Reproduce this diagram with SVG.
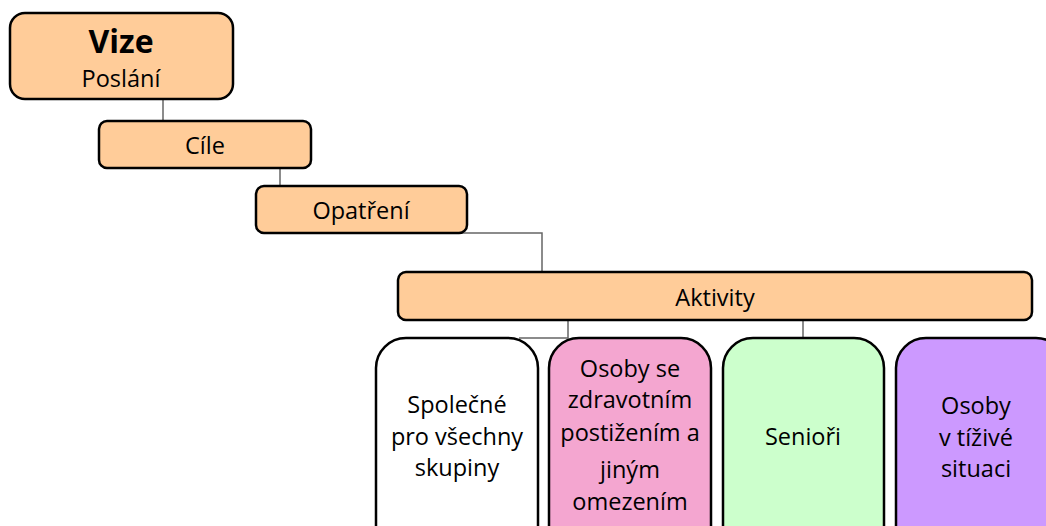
<svg xmlns="http://www.w3.org/2000/svg" width="1046" height="526" viewBox="0 0 1046 526">
<style>
.box{fill:#FFCC99;stroke:#000;stroke-width:2.5}
.t{font-family:"Open Sans","Noto Sans",sans-serif;font-size:23.5px;fill:#000;text-anchor:middle}
.c{fill:none;stroke:#666;stroke-width:1.5}
.big{stroke:#000;stroke-width:2.5}
</style>
<rect width="1046" height="526" fill="#fff"/>
<g id="connectors">
<path class="c" d="M163 99V121"/>
<path class="c" d="M280 168V186"/>
<path class="c" d="M462 233H542V271"/>
<path class="c" d="M568 320V338H519"/>
<path class="c" d="M803 320V338"/>
</g>
<g id="vize"><rect class="box" x="10" y="13" width="223" height="86" rx="15"/>
<text class="t" x="121" y="53" style="font-weight:bold;font-size:32px">Vize</text>
<text class="t" x="121" y="87">Poslání</text></g>
<g id="cile"><rect class="box" x="99" y="121" width="212" height="47" rx="8"/>
<text class="t" x="205" y="154">Cíle</text></g>
<g id="opatreni"><rect class="box" x="256" y="186" width="211" height="47" rx="8"/>
<text class="t" x="361" y="219">Opatření</text></g>
<g id="aktivity"><rect class="box" x="398" y="272" width="634" height="48" rx="8"/>
<text class="t" x="715" y="306">Aktivity</text></g>
<g id="spolecne"><rect class="big" x="376" y="338" width="162" height="220" rx="30" fill="#fff"/>
<text class="t" x="457" y="413">Společné</text>
<text class="t" x="457" y="445">pro všechny</text>
<text class="t" x="457" y="476">skupiny</text></g>
<g id="osoby-zdrav"><rect class="big" x="549" y="338" width="162" height="220" rx="30" fill="#F4A6D0"/>
<text class="t" x="630" y="377">Osoby se</text>
<text class="t" x="630" y="408">zdravotním</text>
<text class="t" x="630" y="441">postižením a</text>
<text class="t" x="630" y="478">jiným</text>
<text class="t" x="630" y="510">omezením</text></g>
<g id="seniori"><rect class="big" x="723" y="338" width="161" height="220" rx="30" fill="#CCFFCC"/>
<text class="t" x="803" y="445">Senioři</text></g>
<g id="osoby-tizive"><rect class="big" x="896" y="338" width="170" height="220" rx="30" fill="#CC99FF"/>
<text class="t" x="976" y="414">Osoby</text>
<text class="t" x="976" y="446">v tíživé</text>
<text class="t" x="976" y="477">situaci</text></g>
</svg>
